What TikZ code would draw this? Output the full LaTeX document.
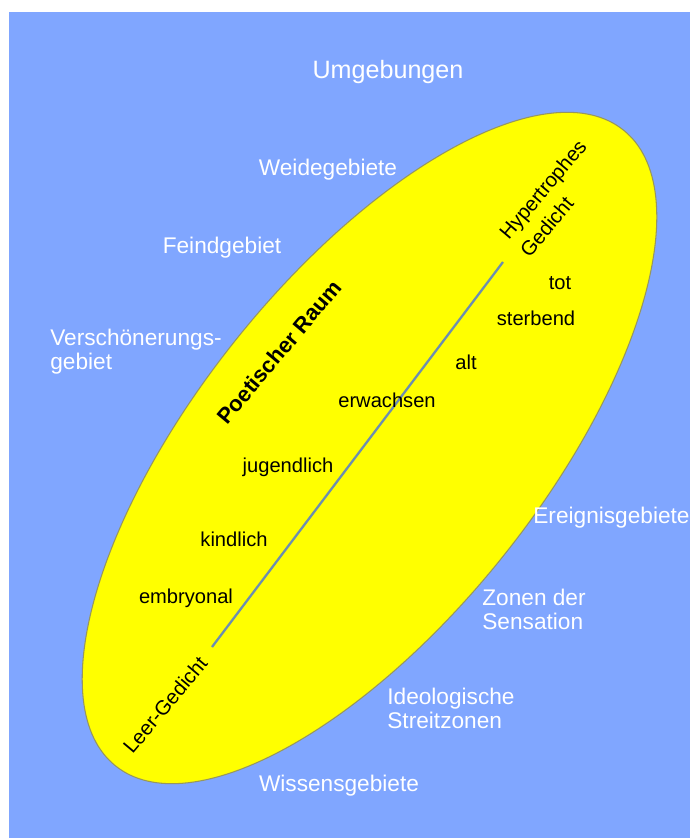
\documentclass[tikz,border=0pt]{standalone}
\usepackage{fontspec}
\setmainfont{Liberation Sans}
\usepackage{xcolor}
\usepackage{tikz}
\usetikzlibrary{shapes.geometric}
\definecolor{umfeldblau}{RGB}{128,166,255}
\definecolor{raumgelb}{RGB}{255,255,0}
\definecolor{achsgrau}{RGB}{108,142,176}
\definecolor{randgrau}{RGB}{150,150,95}

\begin{document}
\begin{tikzpicture}[
  x=0.02cm, y=-0.02cm,
  umfeld/.style={text=white, inner sep=0pt, align=left, font=\fontsize{12.9}{13.6}\selectfont},
  stufe/.style={text=black, inner sep=0pt, font=\fontsize{11.45}{13.6}\selectfont},
  pol/.style={text=black, inner sep=0pt, rotate=50, align=left, font=\fontsize{11.6}{15.3}\selectfont},
  raum/.style={ellipse, draw=randgrau, line width=0.6pt, fill=raumgelb, minimum width=16.28cm, minimum height=6.88cm, inner sep=0pt},
  achse/.style={draw=achsgrau, line width=1.3pt}
]
\useasboundingbox (0,0) rectangle (690,838);
\fill[umfeldblau] (9,12) rectangle (690,838);

\node[raum, rotate=51.4] (raum) at (369.5,448) {};

\coordinate (achseA) at (212,647);
\coordinate (achseB) at (503,262);
\draw[achse] (achseA) -- (achseB);

\node[umfeld, font=\fontsize{14.3}{16}\selectfont] (umgebungen) at (388,72) {Umgebungen};
\node[umfeld] (weide) at (328,170) {Weidegebiete};
\node[umfeld] (feind) at (222,248) {Feindgebiet};
\node[umfeld, anchor=west] (verschoen) at (50,352) {Verschönerungs-\\gebiet};
\node[umfeld, anchor=west] (ereignis) at (533,518) {Ereignisgebiete};
\node[umfeld, anchor=west] (sensation) at (482,609) {Zonen der\\Sensation};
\node[umfeld, anchor=west] (streit) at (387,708) {Ideologische\\Streitzonen};
\node[umfeld] (wissen) at (339,786) {Wissensgebiete};

\node[stufe] (tot) at (560,283) {tot};
\node[stufe] (sterbend) at (536,318) {sterbend};
\node[stufe] (alt) at (466,362) {alt};
\node[stufe] (erwachsen) at (387,400) {erwachsen};
\node[stufe] (jugendlich) at (288,467) {jugendlich};
\node[stufe] (kindlich) at (234,539) {kindlich};
\node[stufe] (embryonal) at (186,598) {embryonal};

\node[pol, font=\bfseries\fontsize{12.5}{15}\selectfont] (poetisch) at (279,352) {Poetischer Raum};
\node[pol] (hyper) at (553,198) {Hypertrophes\\Gedicht};
\node[pol] (leer) at (165,705) {Leer-Gedicht};

\end{tikzpicture}
\end{document}
